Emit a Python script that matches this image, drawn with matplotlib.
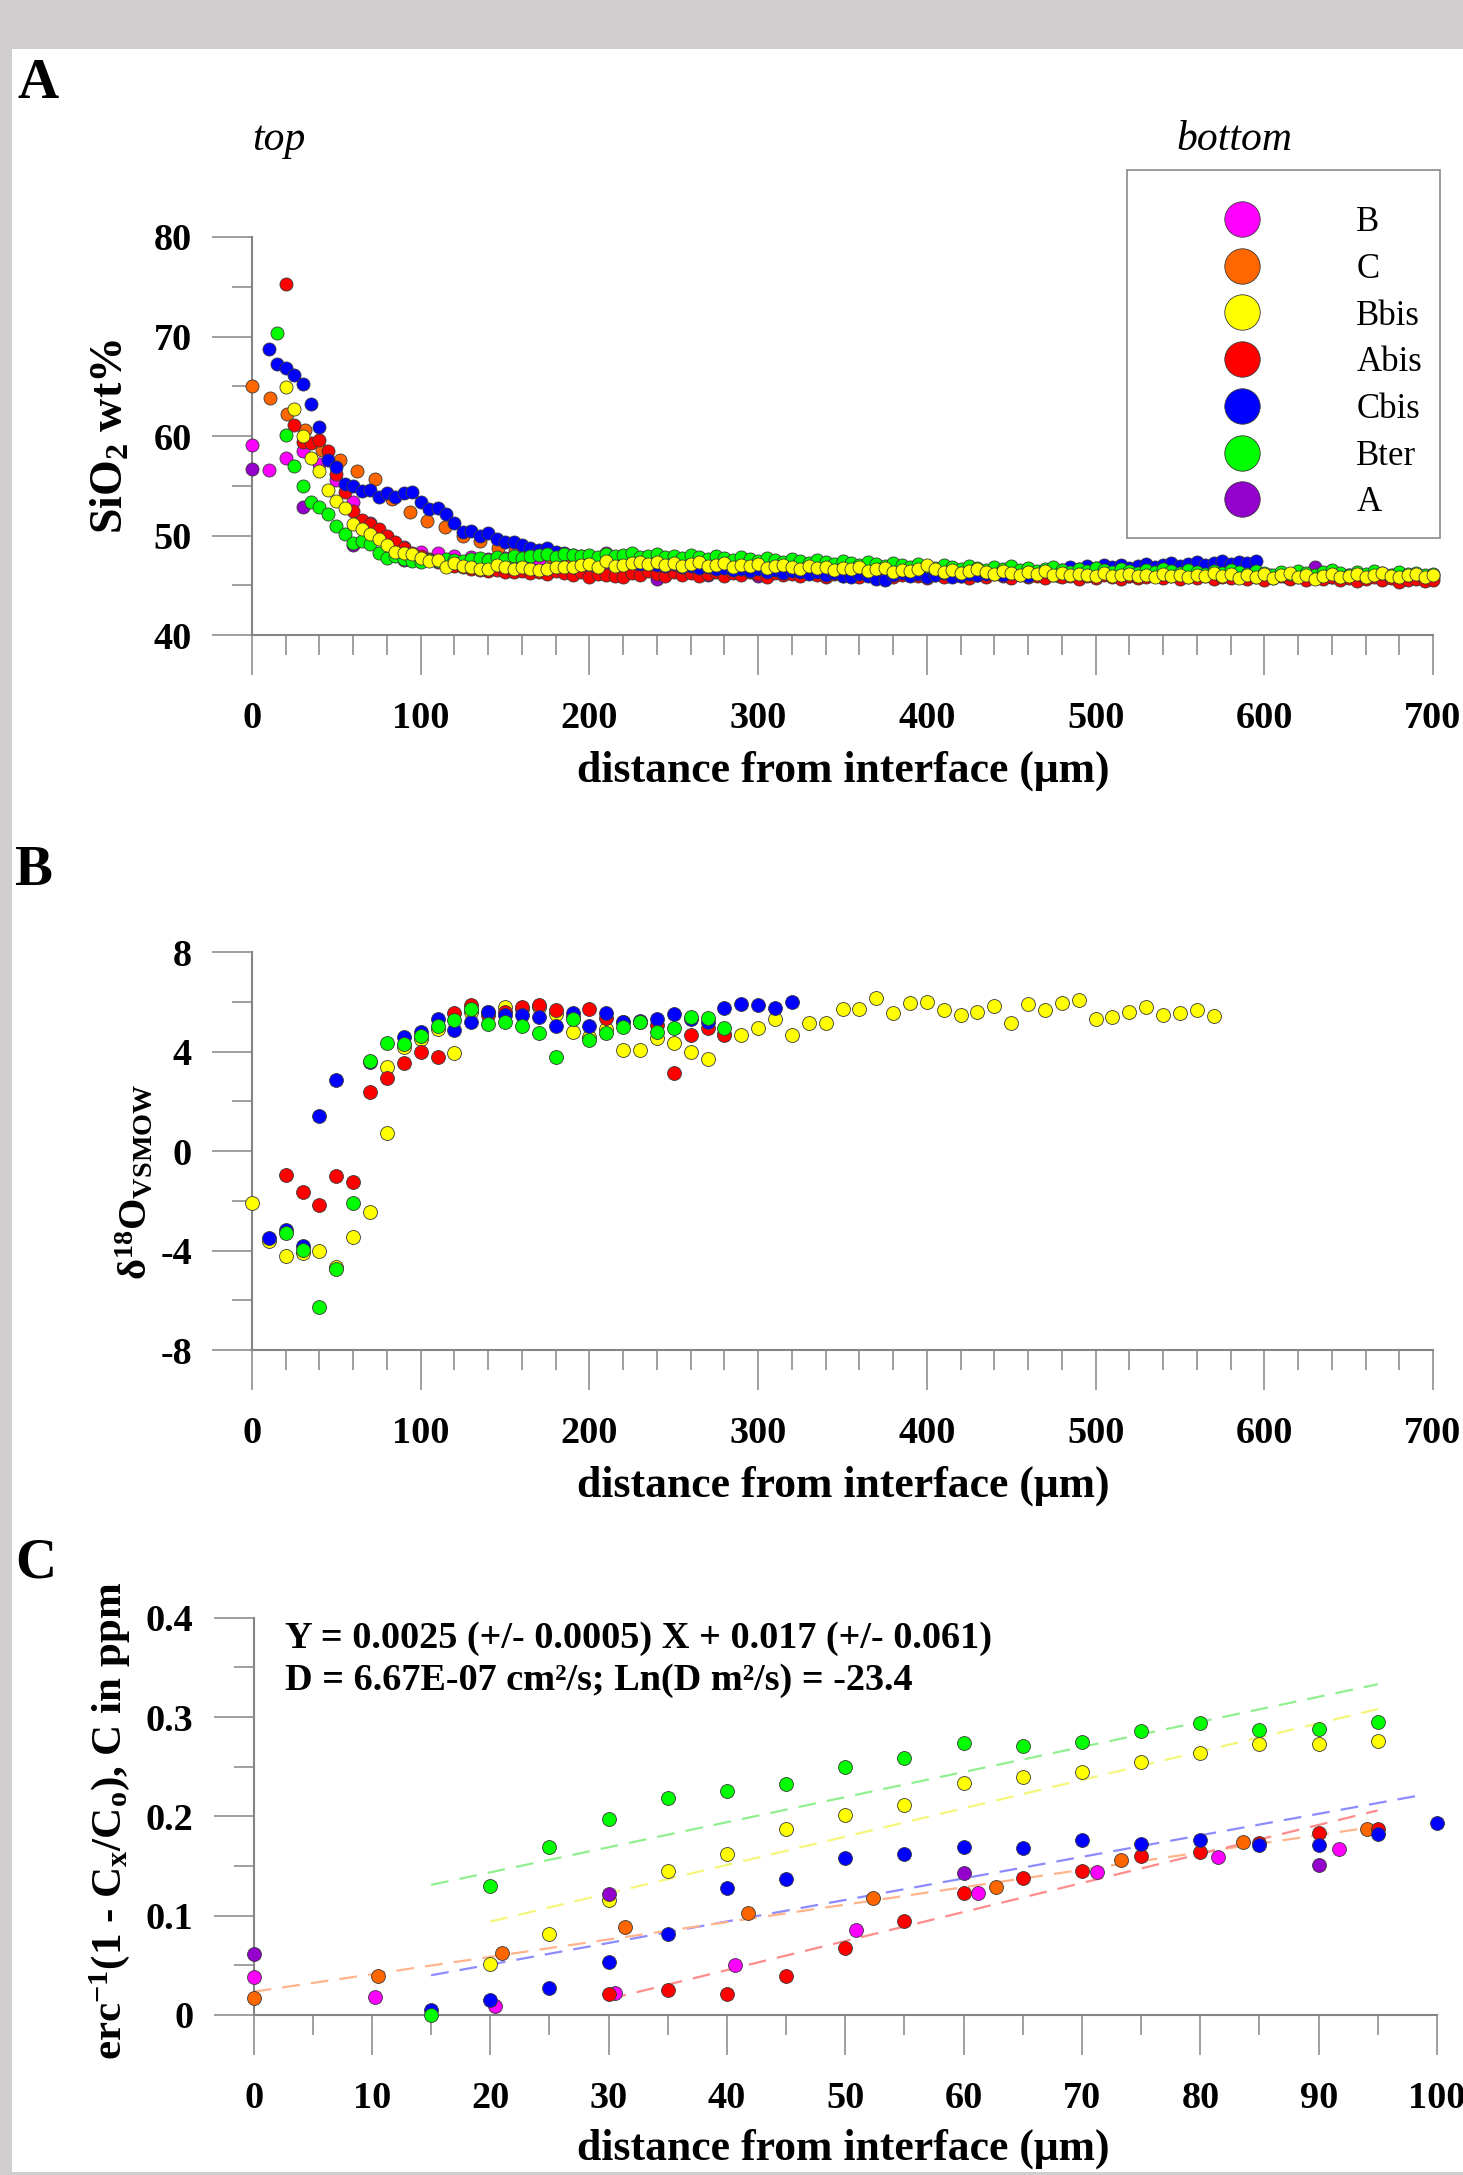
import numpy as np
import matplotlib
matplotlib.use('Agg')
import matplotlib.pyplot as plt
from matplotlib.patches import Rectangle
from matplotlib.ticker import MultipleLocator, FixedLocator, FixedFormatter

plt.rcParams['font.family'] = ['Liberation Serif', 'DejaVu Serif']
plt.rcParams['font.weight'] = 'bold'
plt.rcParams['mathtext.fontset'] = 'custom'
plt.rcParams['mathtext.rm'] = 'Liberation Serif:bold'
plt.rcParams['mathtext.it'] = 'Liberation Serif:bold'
plt.rcParams['mathtext.bf'] = 'Liberation Serif:bold'
plt.rcParams['axes.unicode_minus'] = False

# ---------------------------------------------------------------- data
labels = ['B', 'C', 'Bbis', 'Abis', 'Cbis', 'Bter', 'A']
colors = {'B': '#FF00FF', 'C': '#FF6600', 'Bbis': '#FFFF00', 'Abis': '#FF0000',
          'Cbis': '#0000FF', 'Bter': '#00FF00', 'A': '#9400CC'}

# Panel A : SiO2 wt% profiles (regular sampling: start, step)
A_start = {'B': 0, 'C': 0, 'Bbis': 20, 'Abis': 20, 'Cbis': 10, 'Bter': 15, 'A': 0}
A_step = {'B': 10, 'C': 10.4, 'Bbis': 5, 'Abis': 5, 'Cbis': 5, 'Bter': 5, 'A': 30}

sio2_Bbis = [64.9, 62.7, 60.0, 57.8, 56.5, 54.6, 53.5, 52.8, 51.2, 50.7,
             50.2, 49.6, 49.0, 48.3, 48.2, 48.1, 47.7, 47.4, 47.5, 46.8,
             47.2, 46.9, 46.8, 46.6, 46.6, 47.0, 46.8, 46.6, 46.8, 46.6,
             46.5, 46.6, 46.8, 46.8, 46.8, 47.0, 47.1, 46.8, 47.4, 46.9,
             47.0, 47.2, 47.3,
             47.1, 47.3, 47.0, 47.2, 46.9, 47.1, 47.3, 46.9, 47.0, 47.2,
             46.8, 47.0, 46.9, 47.1, 46.7, 46.9, 47.0, 46.8, 46.6, 46.9,
             46.7, 46.8, 46.5, 46.7, 46.6, 46.8, 46.4, 46.6, 46.7, 46.3,
             46.5, 46.4, 46.6, 47.0, 46.6, 46.3, 46.5, 46.2, 46.4, 46.6,
             46.3, 46.1, 46.4, 46.2, 46.0, 46.3, 46.1, 46.4, 46.0, 46.2,
             46.0, 46.1, 46.0, 45.9, 46.2, 45.9, 46.0, 46.1, 45.9, 46.0,
             45.8, 46.1, 45.9, 46.0, 45.8, 46.0, 45.9, 46.2, 45.9, 46.1,
             45.7, 46.0, 45.8, 46.1, 45.7, 46.0, 46.2, 45.8, 46.0, 45.6,
             45.9, 46.1, 45.8, 45.9, 46.1, 45.8, 46.0, 46.2, 45.9, 45.8,
             46.0, 46.1, 45.8, 46.0]
sio2_Bter = [70.4, 60.1, 57.0, 55.0, 53.4, 52.9, 52.2, 51.0, 50.2, 49.2,
             49.4, 49.1, 48.2, 47.7, 47.9, 47.6, 47.4, 47.3, 47.5, 47.4,
             47.6, 47.5, 47.4, 47.6, 47.7, 47.5, 47.8, 47.6, 47.9, 47.7,
             47.9, 48.0, 48.1, 47.8, 48.1, 48.0, 47.9, 48.0, 47.8, 48.1,
             47.9, 48.0, 48.2, 47.8, 47.9, 48.1, 47.8, 47.9, 47.7, 48.0,
             47.8, 47.6, 47.9, 47.7, 47.5, 47.8, 47.6, 47.4, 47.7, 47.5,
             47.3, 47.6, 47.4, 47.2, 47.5, 47.3, 47.1, 47.4, 47.2, 47.0,
             47.3, 47.1, 46.9, 47.2, 47.0, 46.8, 47.1, 46.9, 46.7, 47.0,
             46.8, 46.6, 46.9, 46.7, 46.5, 46.8, 46.6, 46.9, 46.5, 46.7,
             46.4, 46.6, 46.8, 46.5, 46.3, 46.6, 46.4, 46.7, 46.5, 46.3,
             46.6, 46.4, 46.2, 46.5, 46.3, 46.6, 46.4, 46.2, 46.5, 46.3,
             46.1, 46.4, 46.2, 46.5, 46.3, 46.1, 46.4, 46.2, 46.0, 46.3,
             46.1, 46.4, 46.2, 46.0, 46.3, 46.5, 46.2, 46.0, 46.3, 46.1,
             46.4, 46.2, 46.0, 46.3, 46.1, 46.2, 46.0, 46.1]
sio2_Abis = [75.3, 61.1, 59.4, 59.3, 59.6, 58.5, 56.2, 54.4, 52.5, 51.6,
             51.2, 50.7, 50.0, 49.3, 48.7, 48.2, 47.9, 47.6, 47.3, 47.1,
             46.9, 46.8, 46.6, 46.5, 46.4, 46.5, 46.3, 46.3, 46.4, 46.2,
             46.3, 46.1, 46.4, 46.2, 46.0, 46.3, 45.8, 46.1, 46.0, 45.9,
             45.8, 46.2, 46.0, 46.4, 46.1, 45.9, 46.3, 46.0, 46.2, 45.9,
             46.1, 46.3, 45.9, 46.2, 46.0, 46.3, 46.1, 45.8, 46.2, 46.0,
             46.1, 45.9, 46.2, 46.0, 45.8, 46.1, 45.9, 46.2, 45.8, 46.0,
             45.9, 46.1, 45.8, 46.0, 46.2, 45.9, 45.7, 46.0, 45.8, 46.1,
             45.9, 45.7, 46.0, 45.8, 46.1, 45.9, 45.7, 46.0, 45.8, 45.9,
             45.7, 46.0, 45.8, 45.9, 45.6, 45.9, 45.7, 46.0, 45.8, 45.6,
             45.9, 45.7, 45.8, 46.0, 45.7, 45.9, 45.6, 45.8, 45.7, 45.9,
             45.6, 45.8, 45.7, 45.9, 45.6, 45.8, 45.5, 45.7, 45.9, 45.6,
             45.8, 45.5, 45.7, 45.6, 45.8, 45.5, 45.7, 45.4, 45.6, 45.8,
             45.5, 45.7, 45.3, 45.5, 45.6, 45.4, 45.5]
sio2_Cbis = [68.7, 67.2, 66.8, 66.1, 65.2, 63.2, 60.9, 57.6, 56.9, 55.2,
             55.0, 54.5, 54.6, 53.9, 54.3, 53.9, 54.3, 54.4, 53.4, 52.7,
             52.8, 52.2, 51.3, 50.4, 50.5, 50.0, 50.3, 49.6, 49.3, 49.3,
             49.0, 48.7, 48.5, 48.7, 48.3, 48.2, 48.0, 47.9, 47.6, 47.7,
             47.4, 47.5, 47.2, 47.3, 47.1, 47.2, 47.0, 46.9, 47.1, 46.8,
             46.9, 46.7, 46.8, 46.6, 46.7, 46.5, 46.6, 46.4, 46.6, 46.3,
             46.5, 46.2, 46.4, 46.3, 46.1, 46.3, 46.0, 46.2, 45.9, 45.8,
             46.1, 45.9, 45.6, 45.5, 46.0, 46.2, 45.9, 46.1, 45.8, 46.0,
             46.2, 45.8, 45.9, 46.1, 46.0, 46.1, 46.3, 46.0, 46.2, 46.1,
             45.9, 46.2, 46.4, 46.6, 46.5, 46.8, 46.6, 46.9, 46.7, 47.0,
             46.8, 47.0, 46.7, 46.9, 47.1, 46.8, 47.0, 47.2, 46.9, 47.1,
             47.3, 47.0, 47.2, 47.4, 47.1, 47.3, 47.2, 47.4]
sio2_C = [65.0, 63.8, 62.2, 60.6, 58.6, 57.6, 56.5, 55.7, 53.7, 52.4,
          51.5, 50.9, 50.0, 49.4, 48.7, 48.4, 48.1, 47.9, 47.8, 47.6,
          47.5, 47.4, 47.3, 47.2, 47.0, 47.1, 46.9, 47.0, 46.8, 46.9,
          46.7, 46.8, 46.6, 46.5, 46.7, 46.4, 46.6, 46.3, 46.5, 46.2,
          46.4, 46.1, 46.3, 46.0, 46.2, 46.1, 45.9, 46.2, 46.0, 46.1,
          45.9, 46.0, 46.2, 45.9, 46.0, 45.8, 46.1, 45.9, 46.0, 45.8,
          46.0, 45.9, 46.1, 45.8, 45.9, 46.0, 45.8, 45.9]
sio2_B = [59.1, 56.6, 57.8, 58.5, 57.2, 55.6, 53.4, 51.3, 49.8, 48.8,
          48.3, 48.2, 47.9, 47.8, 47.6, 47.7, 47.5, 47.6, 47.4, 47.5,
          47.3, 48.2, 47.2, 47.0, 47.1, 46.9, 47.0, 46.8, 46.9, 46.7,
          46.8, 46.6, 46.7, 46.5, 46.6, 46.4, 46.5, 46.3, 46.4, 46.2,
          46.3, 46.1, 46.2, 46.0, 46.2, 46.1, 45.9, 46.1, 46.0, 46.2,
          45.9, 46.0, 46.1, 45.9, 46.0, 45.8, 46.0, 45.9, 46.1, 45.8,
          46.0, 46.1, 45.9, 46.0, 45.8, 46.0, 45.9, 46.0, 45.9, 46.0, 45.8]
sio2_A = [56.7, 52.9, 49.0, 47.5, 47.1, 46.8, 46.5, 46.3, 45.6, 46.0,
          45.9, 46.2, 45.9, 46.0, 46.1, 45.9, 46.0, 46.2, 45.8, 46.0,
          46.1, 46.8, 46.0, 45.9]
sio2 = {'B': sio2_B, 'C': sio2_C, 'Bbis': sio2_Bbis, 'Abis': sio2_Abis,
        'Cbis': sio2_Cbis, 'Bter': sio2_Bter, 'A': sio2_A}

# Panel B : delta18O
d18_x = {
    'Bbis': [0, 10, 20, 30, 40, 50, 60, 70, 80, 80, 90, 100, 110, 120, 130, 140, 150, 160,
             170, 180, 190, 200, 210, 220, 230, 240, 250, 260, 270, 280, 290, 300, 310,
             320, 330, 340, 350, 360, 370, 380, 390, 400, 410, 420, 430, 440, 450, 460,
             470, 480, 490, 500, 510, 520, 530, 540, 550, 560, 570],
    'Abis': [20, 30, 40, 50, 60, 70, 80, 90, 100, 110, 120, 130, 140, 150, 160, 170, 180,
             190, 200, 210, 220, 230, 240, 250, 260, 270, 280],
    'Cbis': [10, 20, 30, 40, 50, 70, 90, 100, 110, 120, 130, 140, 150, 160, 170, 180, 190,
             200, 210, 220, 230, 240, 250, 260, 270, 280, 290, 300, 310, 320],
    'Bter': [20, 30, 40, 50, 60, 70, 80, 90, 100, 110, 120, 130, 140, 150, 160, 170, 180,
             190, 200, 210, 220, 230, 240, 250, 260, 270, 280],
}
d18_y = {
    'Bbis': [-2.1, -3.6, -4.2, -4.1, -4.0, -4.65, -3.47, -2.43, 0.72, 3.4, 4.2, 4.5, 4.9,
             3.94, 5.6, 5.6, 5.81, 5.7, 5.8, 5.5, 4.81, 4.6, 4.9, 4.07, 4.07, 4.54, 4.36,
             4.0, 3.69, 4.7, 4.67, 4.94, 5.3, 4.67, 5.14, 5.16, 5.72, 5.72, 6.17, 5.55,
             5.95, 6.02, 5.68, 5.48, 5.59, 5.84, 5.17, 5.92, 5.68, 5.95, 6.08, 5.3, 5.38,
             5.59, 5.81, 5.48, 5.57, 5.68, 5.44],
    'Abis': [-0.96, -1.63, -2.17, -1.0, -1.23, 2.37, 2.96, 3.53, 3.98, 3.8, 5.55, 5.88,
             5.48, 5.6, 5.79, 5.88, 5.68, 5.4, 5.72, 5.34, 5.2, 5.21, 5.08, 3.16, 4.67,
             4.94, 4.67],
    'Cbis': [-3.48, -3.17, -3.8, 1.43, 2.86, 3.6, 4.6, 4.78, 5.32, 4.87, 5.18, 5.6, 5.48,
             5.48, 5.41, 5.05, 5.55, 5.04, 5.55, 5.21, 5.25, 5.3, 5.5, 5.3, 5.21, 5.77,
             5.9, 5.88, 5.77, 6.0],
    'Bter': [-3.3, -3.98, -6.28, -4.75, -2.1, 3.63, 4.34, 4.31, 4.65, 5.04, 5.28, 5.7,
             5.12, 5.21, 5.04, 4.74, 3.8, 5.32, 4.47, 4.74, 4.98, 5.21, 4.81, 4.97, 5.41,
             5.34, 4.97],
}

# Panel C : inverse erf vs distance
erc_x = {
    'Bter': [15, 20, 25, 30, 35, 40, 45, 50, 55, 60, 65, 70, 75, 80, 85, 90, 95],
    'Bbis': [20, 25, 30, 35, 40, 45, 50, 55, 60, 65, 70, 75, 80, 85, 90, 95],
    'Cbis': [15, 20, 25, 30, 35, 40, 45, 50, 55, 60, 65, 70, 75, 80, 85, 90, 95, 100],
    'Abis': [30, 35, 40, 45, 50, 55, 60, 65, 70, 75, 80, 85, 90, 95],
    'C': [0, 10.5, 21, 31.4, 41.8, 52.3, 62.7, 73.3, 83.6, 94.1],
    'B': [0, 10.25, 20.4, 30.5, 40.7, 50.9, 61.2, 71.3, 81.5, 91.7],
    'A': [0, 30, 60, 90],
}
erc_y = {
    'Bter': [0.0, 0.13, 0.1695, 0.197, 0.218, 0.226, 0.233, 0.25, 0.259, 0.2736, 0.271,
             0.2746, 0.2864, 0.2937, 0.287, 0.2877, 0.295],
    'Bbis': [0.0513, 0.0812, 0.116, 0.145, 0.162, 0.187, 0.2014, 0.2115, 0.2333, 0.2394,
             0.245, 0.255, 0.2635, 0.2726, 0.2726, 0.276],
    'Cbis': [0.005, 0.015, 0.0269, 0.0537, 0.082, 0.1275, 0.137, 0.158, 0.162, 0.1695,
             0.1685, 0.1762, 0.172, 0.176, 0.171, 0.171, 0.182, 0.1937],
    'Abis': [0.0211, 0.025, 0.0211, 0.0396, 0.0678, 0.095, 0.1225, 0.138, 0.1453, 0.1605,
             0.1645, 0.1735, 0.183, 0.187],
    'C': [0.0168, 0.0393, 0.062, 0.089, 0.1024, 0.118, 0.1286, 0.156, 0.1745, 0.187],
    'B': [0.0386, 0.0184, 0.009, 0.0218, 0.0503, 0.0856, 0.1225, 0.1443, 0.1594, 0.1668],
    'A': [0.061, 0.1215, 0.1427, 0.151],
}
# linear fits (dashed): x range and end values
fit_series = ['Bter', 'Bbis', 'Cbis', 'C', 'Abis']
fit_x0 = [15, 20, 15, 0, 30]
fit_x1 = [95, 95, 98.5, 95, 95]
fit_y0 = [0.131, 0.094, 0.040, 0.0235, 0.016]
fit_y1 = [0.333, 0.308, 0.221, 0.19, 0.206]
fit_colors = ['#90F090', '#F5F57A', '#8C8CFF', '#FFB48C', '#FF8C8C']

eq_line1 = 'Y = 0.0025 (+/- 0.0005) X + 0.017 (+/- 0.061)'
eq_line2 = 'D = 6.67E-07 cm²/s; Ln(D m²/s) = -23.4'

# ---------------------------------------------------------------- figure
W, H = 1463, 2175
DPI = 100
fig = plt.figure(figsize=(W / DPI, H / DPI), dpi=DPI, facecolor='#D0CECF')
fig.patches.append(Rectangle((12 / W, 1 - 2172 / H), (W - 12) / W, (2172 - 49) / H,
                             transform=fig.transFigure, facecolor='white',
                             edgecolor='none', zorder=-10))


def fx(px):
    return px / W


def fy(py):
    return 1 - py / H


AXC = '#858585'


def style(ax, xmaj, xmin, ymaj, ymin):
    for s in ['top', 'right']:
        ax.spines[s].set_visible(False)
    for s in ['left', 'bottom']:
        ax.spines[s].set_color(AXC)
        ax.spines[s].set_linewidth(1.5)
    ax.xaxis.set_major_locator(MultipleLocator(xmaj))
    ax.xaxis.set_minor_locator(MultipleLocator(xmin))
    ax.yaxis.set_major_locator(MultipleLocator(ymaj))
    ax.yaxis.set_minor_locator(MultipleLocator(ymin))
    ax.tick_params(which='major', length=28.8, width=1.1, color=AXC, direction='out',
                   labelsize=27.5)
    ax.tick_params(which='minor', length=14.4, width=1.1, color=AXC, direction='out')
    ax.tick_params(axis='x', which='major', pad=19)
    ax.tick_params(axis='y', which='major', pad=14.4)
    ax.set_facecolor('none')


MEC = '#3A3A3A'

# ---- Panel A
axA = fig.add_axes([fx(252), fy(635), (1433 - 252) / W, (635 - 237) / H])
orderA = ['B', 'A', 'C', 'Abis', 'Cbis', 'Bter', 'Bbis']
handles = {}
for z, k in enumerate(orderA):
    y = np.array(sio2[k])
    x = A_start[k] + A_step[k] * np.arange(len(y))
    ln, = axA.plot(x, y, 'o', ls='none', ms=9.4, mfc=colors[k], mec=MEC, mew=0.6,
                   clip_on=False, zorder=3 + z)
    handles[k] = ln
axA.set_xlim(0, 700)
axA.set_ylim(40, 80)
style(axA, 100, 20, 10, 5)
leg = axA.legend([handles[k] for k in labels], labels, loc='upper left',
                 bbox_to_anchor=(fx(1127), fy(170)), bbox_transform=fig.transFigure,
                 frameon=True, fancybox=False, framealpha=1, edgecolor='#8A8A8A',
                 prop={'family': 'Liberation Serif', 'weight': 'normal', 'size': 25},
                 title=' ', title_fontsize=2.6,
                 markerscale=25.5 / 9.4, handlelength=5.57, handletextpad=0.5,
                 borderpad=0.53, labelspacing=0.395, borderaxespad=0)
leg.get_frame().set_linewidth(1.2)
leg.set_zorder(20)

# ---- Panel B
axB = fig.add_axes([fx(252), fy(1350), (1433 - 252) / W, (1350 - 952.3) / H])
for z, k in enumerate(['Bbis', 'Abis', 'Cbis', 'Bter']):
    axB.plot(d18_x[k], d18_y[k], 'o', ls='none', ms=10, mfc=colors[k], mec=MEC, mew=0.6,
             clip_on=False, zorder=3 + z)
axB.set_xlim(0, 700)
axB.set_ylim(-8, 8)
style(axB, 100, 20, 4, 2)

# ---- Panel C
axC = fig.add_axes([fx(253.6), fy(2015), (1437 - 253.6) / W, (2015 - 1617.7) / H])
for i, k in enumerate(fit_series):
    axC.plot([fit_x0[i], fit_x1[i]], [fit_y0[i], fit_y1[i]], ls=(0, (8, 5)), lw=1.6,
             color=fit_colors[i], zorder=2)
for z, k in enumerate(['B', 'C', 'Bbis', 'A', 'Abis', 'Cbis', 'Bter']):
    axC.plot(erc_x[k], erc_y[k], 'o', ls='none', ms=10, mfc=colors[k], mec=MEC, mew=0.6,
             clip_on=False, zorder=3 + z)
axC.set_xlim(0, 100)
axC.set_ylim(0, 0.4)
style(axC, 10, 5, 0.1, 0.05)
axC.yaxis.set_major_formatter(FixedFormatter(['0', '0.1', '0.2', '0.3', '0.4']))
axC.yaxis.set_major_locator(FixedLocator([0, 0.1, 0.2, 0.3, 0.4]))

# ---------------------------------------------------------------- texts
for lab, (px, py) in zip(['A', 'B', 'C'], [(17, 98), (14, 885), (15, 1577)]):
    fig.text(fx(px), fy(py), lab, fontsize=41, fontweight='bold', ha='left', va='baseline')

fig.text(fx(252), fy(150), 'top', fontsize=30, style='italic', fontweight='normal',
         ha='left', va='baseline')
fig.text(fx(1176), fy(150), 'bottom', fontsize=30, style='italic', fontweight='normal',
         ha='left', va='baseline')

xlab = 'distance from interface (μm)'
for py in [782, 1497, 2160]:
    fig.text(fx(843), fy(py), xlab, fontsize=31.5, ha='center', va='baseline')

fig.text(fx(112), fy(437), r'SiO$_2$ wt%', fontsize=33, rotation=90, ha='center',
         va='center')
fig.text(fx(135), fy(1182), r'δ$^{18}$O$_{VSMOW}$', fontsize=29, rotation=90,
         ha='center', va='center')
fig.text(fx(110), fy(1821), r'erc$^{-1}$(1 - C$_x$/C$_o$), C in ppm', fontsize=31,
         rotation=90, ha='center', va='center')

fig.text(fx(285), fy(1648), eq_line1, fontsize=27.5, ha='left', va='baseline')
fig.text(fx(285), fy(1690), eq_line2, fontsize=27.5, ha='left', va='baseline')

fig.savefig('out.png', dpi=DPI, facecolor=fig.get_facecolor())
